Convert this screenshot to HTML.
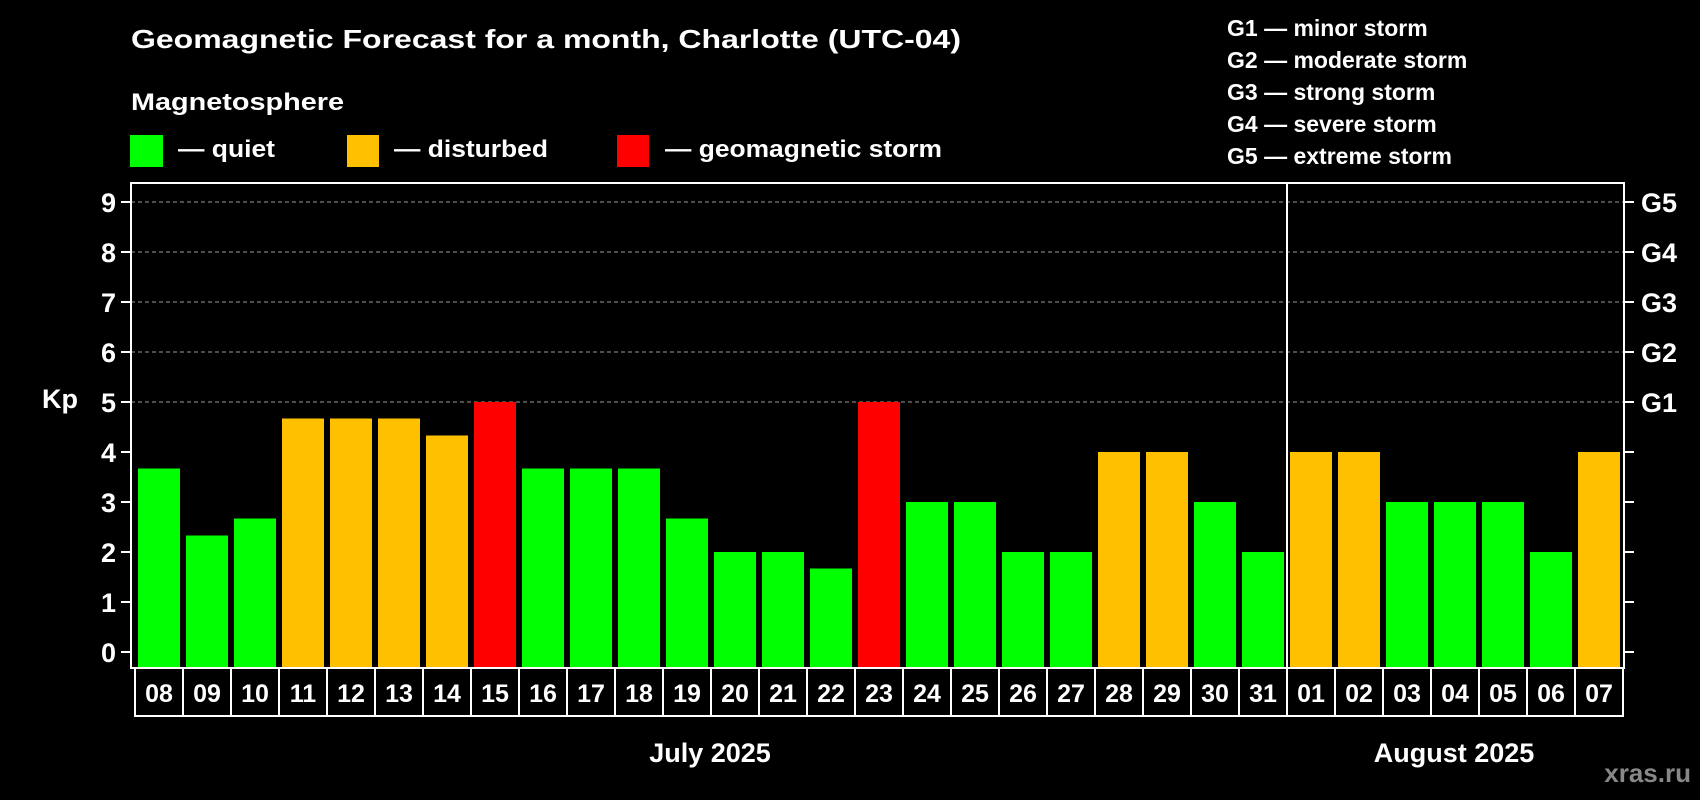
<!DOCTYPE html>
<html><head><meta charset="utf-8"><style>
html,body{margin:0;padding:0;background:#000;}
svg{display:block;font-family:"Liberation Sans",sans-serif;font-weight:bold;}
</style></head><body>
<svg id="chart" width="1700" height="800" viewBox="0 0 1700 800">
<rect width="1700" height="800" fill="#000"/>
<text x="131" y="48" font-size="26" fill="#fff" textLength="830" lengthAdjust="spacingAndGlyphs">Geomagnetic Forecast for a month, Charlotte (UTC-04)</text>
<text x="131" y="110" font-size="24" fill="#fff" textLength="213" lengthAdjust="spacingAndGlyphs">Magnetosphere</text>
<g>
<rect x="130" y="135" width="33" height="32" fill="#00ff00"/>
<text x="178" y="157" font-size="24" fill="#fff" textLength="97" lengthAdjust="spacingAndGlyphs">— quiet</text>
</g>
<g>
<rect x="347" y="135" width="32" height="32" fill="#ffc000"/>
<text x="394" y="157" font-size="24" fill="#fff" textLength="154" lengthAdjust="spacingAndGlyphs">— disturbed</text>
</g>
<g>
<rect x="617" y="135" width="32" height="32" fill="#ff0000"/>
<text x="665" y="157" font-size="24" fill="#fff" textLength="277" lengthAdjust="spacingAndGlyphs">— geomagnetic storm</text>
</g>
<g font-size="23" fill="#fff">
<text x="1227" y="36">G1 — minor storm</text>
<text x="1227" y="68">G2 — moderate storm</text>
<text x="1227" y="100">G3 — strong storm</text>
<text x="1227" y="132">G4 — severe storm</text>
<text x="1227" y="164">G5 — extreme storm</text>
</g>
<text x="42" y="408" font-size="27" fill="#fff">Kp</text>
<g id="grid"></g>
<g id="bars"></g>
<g id="axes"></g>
<text x="710" y="762" font-size="27" fill="#fff" text-anchor="middle">July 2025</text>
<text x="1454" y="762" font-size="27" fill="#fff" text-anchor="middle">August 2025</text>
<text x="1691" y="782" font-size="26" fill="#888" text-anchor="end">xras.ru</text>
</svg>
<script>
const days = ["08","09","10","11","12","13","14","15","16","17","18","19","20","21","22","23","24","25","26","27","28","29","30","31","01","02","03","04","05","06","07"];
const kpValues = [3.67,2.33,2.67,4.67,4.67,4.67,4.33,5,3.67,3.67,3.67,2.67,2,2,1.67,5,3,3,2,2,4,4,3,2,4,4,3,3,3,2,4];
const yTicks = [0,1,2,3,4,5,6,7,8,9];
const gLabels = ["G1","G2","G3","G4","G5"];
const gLevels = [5,6,7,8,9];
const monthSplitIndex = 24;

const NS="http://www.w3.org/2000/svg";
const L=131,R=1624,T=183,B=668,slot0=135,pitch=48,barW=42;
const y=v=>652-v*50;
const x=i=>slot0+i*pitch;
function mk(tag,attrs,parent,txt){const e=document.createElementNS(NS,tag);for(const k in attrs)e.setAttribute(k,attrs[k]);if(txt!==undefined)e.textContent=txt;parent.appendChild(e);return e;}
const grid=document.getElementById('grid'),bars=document.getElementById('bars'),axes=document.getElementById('axes');
function color(v){return v>=5?"#ff0000":(v>=4?"#ffc000":"#00ff00");}

gLevels.forEach(v=>{
  const g=mk('line',{x1:L,x2:R,y1:y(v),y2:y(v),stroke:"#999","stroke-width":1,"stroke-dasharray":"4,3"},grid);
  
  
});
kpValues.forEach((v,i)=>{
  const r=mk('rect',{x:x(i)+3,y:y(v),width:barW,height:B-y(v),fill:color(v)},bars);
  
  
});
const frame=mk('rect',{x:L,y:T,width:R-L,height:B-T,fill:"none",stroke:"#fff","stroke-width":2},axes);


const sep=mk('line',{x1:x(monthSplitIndex),x2:x(monthSplitIndex),y1:T,y2:716,stroke:"#fff","stroke-width":2},axes);


yTicks.forEach(v=>{
  mk('line',{x1:L-10,x2:L,y1:y(v),y2:y(v),stroke:"#fff","stroke-width":2},axes);
  mk('line',{x1:R,x2:R+10,y1:y(v),y2:y(v),stroke:"#fff","stroke-width":2},axes);
  const t=mk('text',{x:116,y:y(v)+10,"font-size":27,fill:"#fff","text-anchor":"end"},axes,String(v));
  
  
});
gLevels.forEach((v,i)=>{
  const t=mk('text',{x:1641,y:y(v)+10,"font-size":27,fill:"#fff"},axes,gLabels[i]);
  
  
});
days.forEach((d,i)=>{
  const c=mk('rect',{x:x(i),y:B,width:pitch,height:48,fill:"#000",stroke:"#fff","stroke-width":2},axes);
  
  
  const t=mk('text',{x:x(i)+pitch/2,y:B+34,"font-size":25,fill:"#fff","text-anchor":"middle"},axes,d);
  
  
});
</script>
</body></html>
